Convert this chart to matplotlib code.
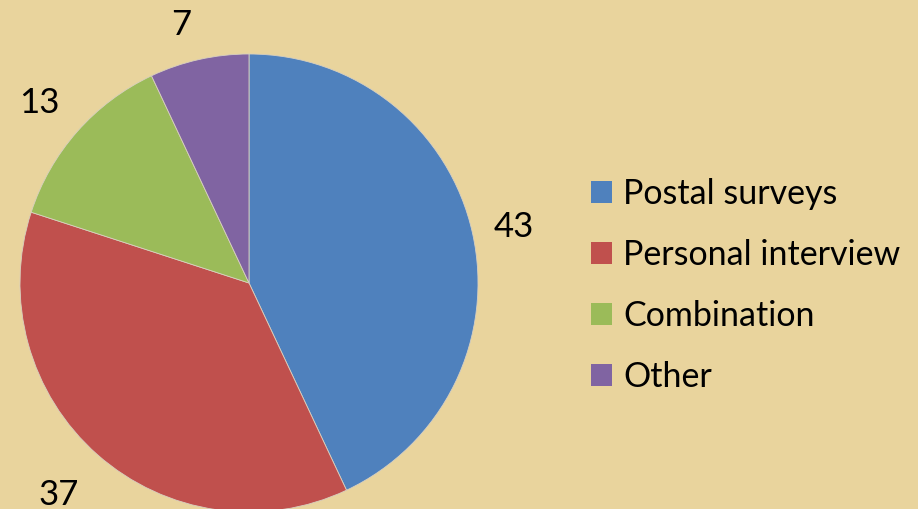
import matplotlib
matplotlib.use("Agg")
import matplotlib.pyplot as plt
from matplotlib.patches import Patch

categories = ["Postal surveys", "Personal interview", "Combination", "Other"]
values = [43, 37, 13, 7]
colors = ["#4F81BD", "#C0504D", "#9BBB59", "#8064A2"]

plt.rcParams["font.family"] = ["Lato", "DejaVu Sans"]

fig = plt.figure(figsize=(9.18, 5.09), dpi=100)
fig.patch.set_facecolor("#E9D49D")

# pie centred at about (249, 283) px, radius 229 px
ax = fig.add_axes([20 / 918, -3 / 509, 458 / 918, 458 / 509])
ax.set_facecolor("none")
wedges, texts = ax.pie(values, colors=colors, startangle=90, counterclock=False,
                       labels=[str(v) for v in values], labeldistance=1.18,
                       wedgeprops=dict(linewidth=0.6, edgecolor="#D8D0C0"),
                       textprops=dict(fontsize=25, color="black"))
# small nudges to mimic the original label placement
nudges = [(0.007, 0.0), (-0.052, -0.026), (-0.032, 0.02), (-0.039, -0.014)]
for t, (dx, dy) in zip(texts, nudges):
    x, y = t.get_position()
    t.set_position((x + dx, y + dy))
    t.set_ha("center")
    t.set_va("center_baseline")
ax.set_xlim(-1, 1)
ax.set_ylim(-1, 1)
ax.set_aspect("equal")
ax.axis("off")

handles = [Patch(facecolor=c, edgecolor="none") for c in colors]
leg = fig.legend(handles, categories, loc="upper left",
                 bbox_to_anchor=(574 / 918, 1 - 161 / 509),
                 frameon=False, fontsize=24.5, handlelength=0.62, handleheight=0.62,
                 handletextpad=0.33, labelspacing=0.85, borderpad=0)

fig.savefig("out.png", dpi=100, facecolor=fig.get_facecolor())
